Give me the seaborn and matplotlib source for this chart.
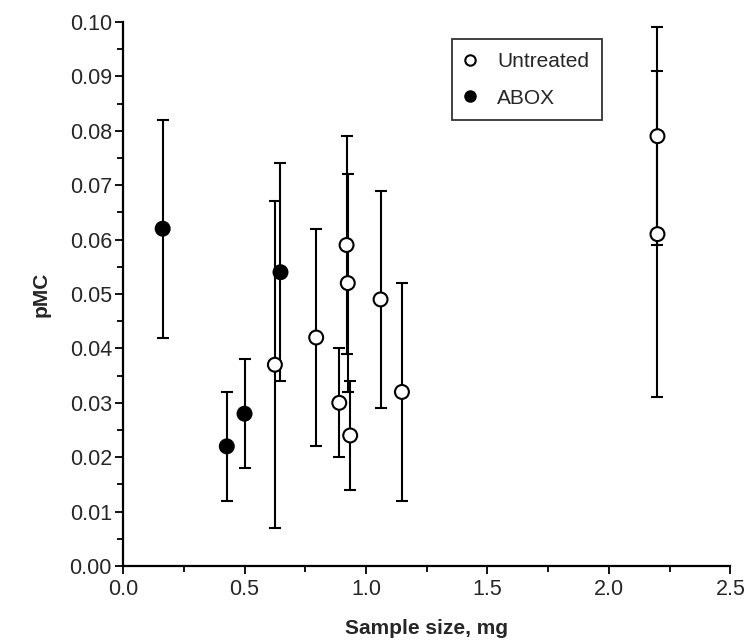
import numpy as np
import pandas as pd
import seaborn as sns
import matplotlib.pyplot as plt
from matplotlib.lines import Line2D
from matplotlib.ticker import MultipleLocator, FormatStrFormatter

# sample size (mg), pMC and 1-sigma error
untreated_x = [0.625, 0.795, 0.89, 0.92, 0.925, 0.935, 1.06, 1.148, 2.20, 2.20]
untreated_y = [0.037, 0.042, 0.030, 0.059, 0.052, 0.024, 0.049, 0.032, 0.079, 0.061]
untreated_err = [0.030, 0.020, 0.010, 0.020, 0.020, 0.010, 0.020, 0.020, 0.020, 0.030]

abox_x = [0.163, 0.427, 0.50, 0.648]
abox_y = [0.062, 0.022, 0.028, 0.054]
abox_err = [0.020, 0.010, 0.010, 0.020]

df = pd.concat([
    pd.DataFrame({'size': untreated_x, 'pmc': untreated_y, 'err': untreated_err, 'group': 'Untreated'}),
    pd.DataFrame({'size': abox_x, 'pmc': abox_y, 'err': abox_err, 'group': 'ABOX'}),
], ignore_index=True)

sns.set_style('ticks')
plt.rcParams['font.family'] = ['Liberation Sans', 'DejaVu Sans']

fig = plt.figure(figsize=(7.46, 6.44), dpi=100)
ax = fig.add_axes([0.165, 0.121, 0.814, 0.845])

ax.errorbar(df['size'], df['pmc'], yerr=df['err'], fmt='none', ecolor='black',
            elinewidth=1.5, capsize=4, capthick=1.5, zorder=2)

sns.scatterplot(data=df, x='size', y='pmc', hue='group',
                palette={'Untreated': 'white', 'ABOX': 'black'},
                edgecolor='black', linewidth=1.5, s=100, legend=False, zorder=3, ax=ax)

ax.set_xlim(0, 2.5)
ax.set_ylim(0, 0.10)
ax.xaxis.set_major_locator(MultipleLocator(0.5))
ax.xaxis.set_minor_locator(MultipleLocator(0.25))
ax.yaxis.set_major_locator(MultipleLocator(0.01))
ax.yaxis.set_minor_locator(MultipleLocator(0.005))
ax.xaxis.set_major_formatter(FormatStrFormatter('%.1f'))
ax.yaxis.set_major_formatter(FormatStrFormatter('%.2f'))
ax.tick_params(which='major', direction='out', length=6, width=1.3, labelsize=15.5, color='black')
ax.tick_params(which='minor', direction='out', length=4, width=1.3, color='black')
ax.tick_params(axis='x', pad=3)
ax.tick_params(axis='y', pad=2)

for side in ['left', 'bottom']:
    ax.spines[side].set_linewidth(1.6)
    ax.spines[side].set_color('black')
sns.despine(ax=ax)

ax.set_xlabel('Sample size, mg', fontsize=15, fontweight='bold', labelpad=14)
ax.set_ylabel('pMC', fontsize=15, fontweight='bold', labelpad=13.5)

handles = [
    Line2D([], [], marker='o', linestyle='none', markerfacecolor='white',
           markeredgecolor='black', markeredgewidth=1.5, markersize=7.5, label='Untreated'),
    Line2D([], [], marker='o', linestyle='none', markerfacecolor='black',
           markeredgecolor='black', markeredgewidth=1.5, markersize=7.5, label='ABOX'),
]
leg = ax.legend(handles=handles, loc='upper left', bbox_to_anchor=(0.541, 0.968),
                fontsize=15, frameon=True, fancybox=False, edgecolor='black',
                handletextpad=1.0, borderpad=0.6, labelspacing=0.85, handlelength=0.6,
                borderaxespad=0)
leg.get_frame().set_linewidth(1.3)

fig.savefig('out.png', dpi=100)
